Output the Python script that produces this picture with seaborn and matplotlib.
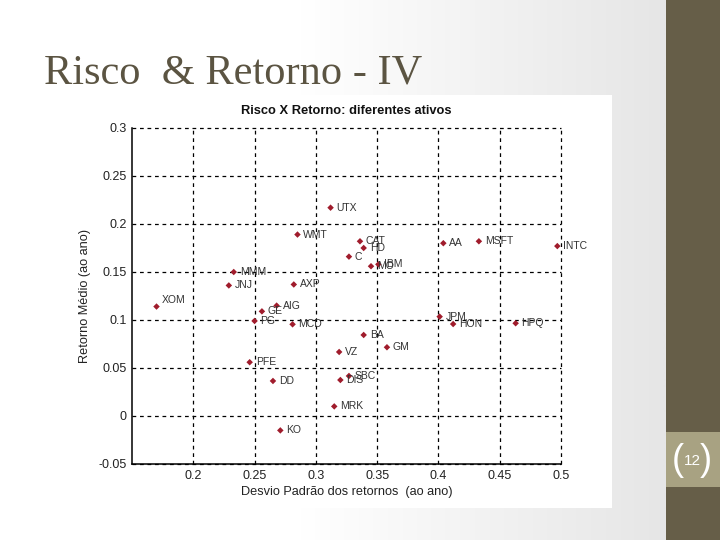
import numpy as np
import pandas as pd
import matplotlib
matplotlib.use("Agg")
import matplotlib.pyplot as plt
from matplotlib.patches import Rectangle
import seaborn as sns

# Ativos: desvio padrao (ao ano) e retorno medio (ao ano)
tickers = ['UTX', 'WMT', 'MMM', 'JNJ', 'AXP', 'CAT', 'HD', 'C', 'MO', 'IBM',
           'AA', 'MSFT', 'INTC', 'XOM', 'AIG', 'GE', 'PG', 'MCD', 'PFE', 'DD',
           'KO', 'VZ', 'DIS', 'SBC', 'MRK', 'BA', 'GM', 'JPM', 'HON', 'HPQ']
risk = [0.312, 0.285, 0.233, 0.229, 0.282, 0.336, 0.339, 0.327, 0.345, 0.351,
        0.404, 0.433, 0.497, 0.170, 0.268, 0.256, 0.250, 0.281, 0.246, 0.265,
        0.271, 0.319, 0.320, 0.327, 0.315, 0.339, 0.358, 0.401, 0.412, 0.463]
ret = [0.217, 0.189, 0.150, 0.136, 0.137, 0.182, 0.175, 0.166, 0.156, 0.158,
       0.180, 0.182, 0.177, 0.114, 0.115, 0.109, 0.099, 0.0955, 0.056, 0.0365,
       -0.015, 0.0667, 0.0375, 0.0417, 0.010, 0.0844, 0.0716, 0.1035, 0.0958, 0.0966]

x_ticks = [0.2, 0.25, 0.3, 0.35, 0.4, 0.45, 0.5]
y_ticks = [-0.05, 0, 0.05, 0.1, 0.15, 0.2, 0.25, 0.3]

df = pd.DataFrame({'ativo': tickers, 'risco': risk, 'retorno': ret})

sns.set_theme(style='white')
plt.rcParams['font.family'] = ['Liberation Sans', 'DejaVu Sans']

fig = plt.figure(figsize=(7.2, 5.4), dpi=100)

# slide background
bg = fig.add_axes([0, 0, 1, 1])
bg.set_xlim(0, 720)
bg.set_ylim(540, 0)
bg.axis('off')
grad = np.clip((np.linspace(0, 720, 400) - 300) / 365.0, 0, 1)
bg.imshow(grad[np.newaxis, :], extent=[0, 720, 540, 0], aspect='auto',
          cmap=matplotlib.colors.LinearSegmentedColormap.from_list('g', ['#ffffff', '#e6e6e6']),
          vmin=0, vmax=1)
bg.add_patch(Rectangle((666, 0), 54, 540, color='#665e48', lw=0))
bg.add_patch(Rectangle((666, 432), 54, 55, color='#a8a282', lw=0))
bg.add_patch(Rectangle((80, 95), 532, 413, color='white', lw=0))
bg.text(672, 461, '(', color='white', fontsize=26, va='center', ha='left',
        family='Liberation Sans', fontweight='light')
bg.text(712, 461, ')', color='white', fontsize=26, va='center', ha='right',
        family='Liberation Sans', fontweight='light')
bg.text(692, 461, '12', color='white', fontsize=11, va='center', ha='center')
bg.text(44, 84, 'Risco  & Retorno - IV', color='#5b5442', fontsize=30.5,
        family='Liberation Serif', ha='left', va='baseline')

ax = fig.add_axes([132 / 720, 1 - 464 / 540, 429 / 720, 336 / 540])
ax.set_facecolor('none')
sns.scatterplot(data=df, x='risco', y='retorno', ax=ax, marker='D', s=11,
                color='#a01c2c', edgecolor='none', legend=False, zorder=3)

special = {'XOM': (4, 5)}
for name, xv, yv in zip(tickers, risk, ret):
    off = special.get(name, (4.3, 0))
    ax.annotate(name, (xv, yv), xytext=off, textcoords='offset points',
                fontsize=7.5, color='#333333', ha='left', va='center')

ax.set_xlim(0.15, 0.5)
ax.set_ylim(-0.05, 0.3)
ax.set_xticks(x_ticks)
ax.set_xticklabels([f'{t:g}' for t in x_ticks])
ax.set_yticks(y_ticks)
ax.set_yticklabels([f'{t:g}' for t in y_ticks])
ax.grid(True, color='black', linestyle=(0, (3, 3)), linewidth=0.9)
for gl in ax.get_xgridlines() + ax.get_ygridlines():
    gl.set_clip_on(False)
for side in ['top', 'right']:
    ax.spines[side].set_visible(False)
for side in ['left', 'bottom']:
    ax.spines[side].set_color('black')
    ax.spines[side].set_linewidth(1.1)
ax.tick_params(axis='both', labelsize=9, colors='#222222', length=0, pad=4)
ax.set_xlabel('Desvio Padrão dos retornos  (ao ano)', fontsize=9.2, color='#222222', labelpad=3)
ax.set_ylabel('Retorno Médio (ao ano)', fontsize=9.2, color='#222222', labelpad=5)
ax.set_title('Risco X Retorno: diferentes ativos', fontsize=9.3, fontweight='bold',
             color='#111111', pad=10)

fig.savefig('out.png', dpi=100)
